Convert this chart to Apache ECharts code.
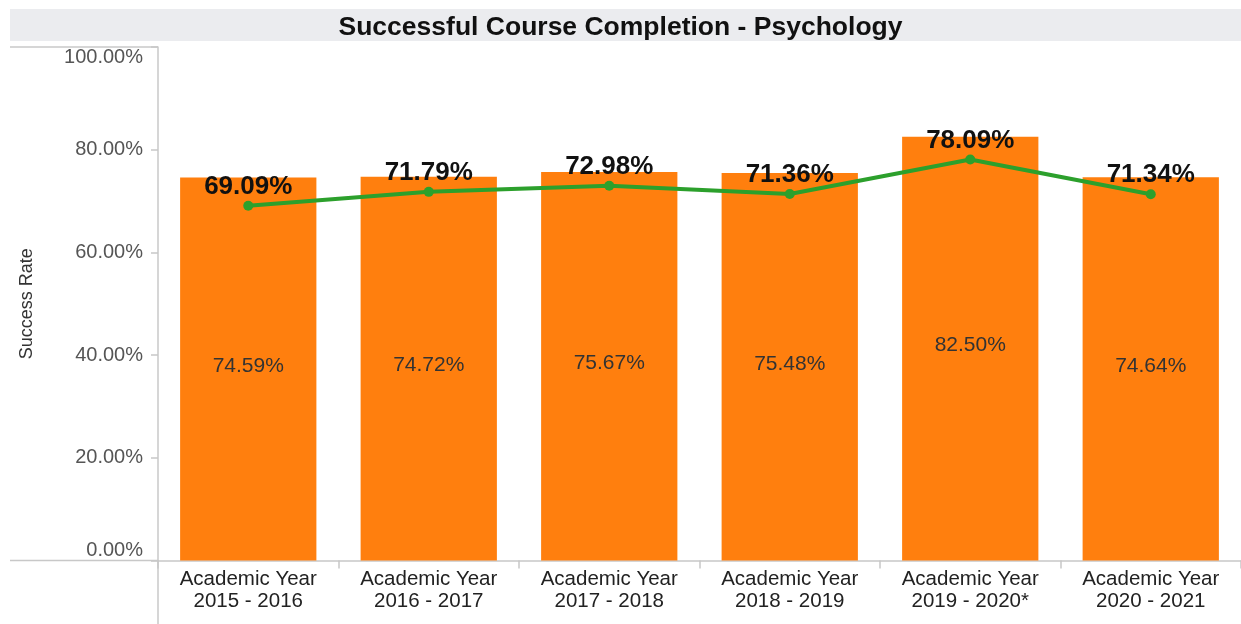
<!DOCTYPE html>
<html>
<head>
<meta charset="utf-8">
<script src="https://cdn.jsdelivr.net/npm/echarts@6/dist/echarts.min.js"></script>
<style>
html,body{margin:0;padding:0;background:#fff;}
#chart{width:1241px;height:624px;}
</style>
</head>
<body>
<div id="chart"></div>
<script>
const categories = [
  'Academic Year\n2015 - 2016',
  'Academic Year\n2016 - 2017',
  'Academic Year\n2017 - 2018',
  'Academic Year\n2018 - 2019',
  'Academic Year\n2019 - 2020*',
  'Academic Year\n2020 - 2021'
];
const barValues = [74.59, 74.72, 75.67, 75.48, 82.50, 74.64];
const lineValues = [69.09, 71.79, 72.98, 71.36, 78.09, 71.34];
const titleText = 'Successful Course Completion - Psychology';
const yAxisName = 'Success Rate';

const chart = echarts.init(document.getElementById('chart'), null, {renderer: 'canvas'});
const font = 'Liberation Sans, Arial, sans-serif';
chart.setOption({
  animation: false,
  textStyle: {fontFamily: font},
  graphic: [
    {type: 'rect', left: 10, top: 9, shape: {width: 1231, height: 32}, style: {fill: '#ebecef'}, z: -1},
    {type: 'line', shape: {x1: 10, y1: 47, x2: 158, y2: 47}, style: {stroke: '#c8c8c8', lineWidth: 1.5}},
    {type: 'line', shape: {x1: 10, y1: 560.5, x2: 158, y2: 560.5}, style: {stroke: '#c8c8c8', lineWidth: 1.5}},
    {type: 'line', shape: {x1: 158, y1: 560, x2: 158, y2: 624}, style: {stroke: '#c8c8c8', lineWidth: 1.5}}
  ],
  title: {
    text: titleText,
    left: 'center',
    top: 9,
    textStyle: {fontSize: 26.5, fontWeight: 'bold', color: '#111', fontFamily: font}
  },
  grid: {left: 158, right: 0, top: 47, bottom: 63.5, containLabel: false},
  xAxis: {
    type: 'category',
    data: categories,
    axisLine: {lineStyle: {color: '#c8c8c8', width: 1.5}},
    axisTick: {show: true, length: 8, lineStyle: {color: '#c8c8c8', width: 1.5}},
    axisLabel: {color: '#222', fontSize: 20.5, lineHeight: 22, margin: 8, interval: 0}
  },
  yAxis: {
    type: 'value',
    min: 0, max: 100, interval: 20,
    name: yAxisName,
    nameLocation: 'middle',
    nameRotate: 90,
    nameGap: 122,
    nameTextStyle: {fontSize: 18, color: '#333'},
    axisLine: {show: true, lineStyle: {color: '#c8c8c8', width: 1.5}},
    axisTick: {show: true, length: 7, lineStyle: {color: '#c8c8c8', width: 1.5}},
    splitLine: {show: false},
    axisLabel: {
      color: '#555', fontSize: 20, margin: 15,
      formatter: v => v.toFixed(2) + '%',
      verticalAlignMinLabel: 'bottom',
      verticalAlignMaxLabel: 'top'
    }
  },
  series: [
    {
      type: 'bar',
      data: barValues,
      barCategoryGap: '24.5%',
      itemStyle: {color: '#ff7f0e'},
      label: {
        show: true, position: 'inside', offset: [0, -3], color: '#333', fontSize: 21,
        formatter: p => p.value.toFixed(2) + '%'
      },
      z: 1
    },
    {
      type: 'line',
      data: lineValues,
      symbol: 'circle',
      symbolSize: 10,
      lineStyle: {color: '#2ca02c', width: 4},
      itemStyle: {color: '#2ca02c'},
      label: {
        show: true, position: 'top', distance: 1, color: '#111', fontSize: 26, fontWeight: 'bold',
        formatter: p => p.value.toFixed(2) + '%'
      },
      z: 3
    }
  ]
});
</script>
</body>
</html>
